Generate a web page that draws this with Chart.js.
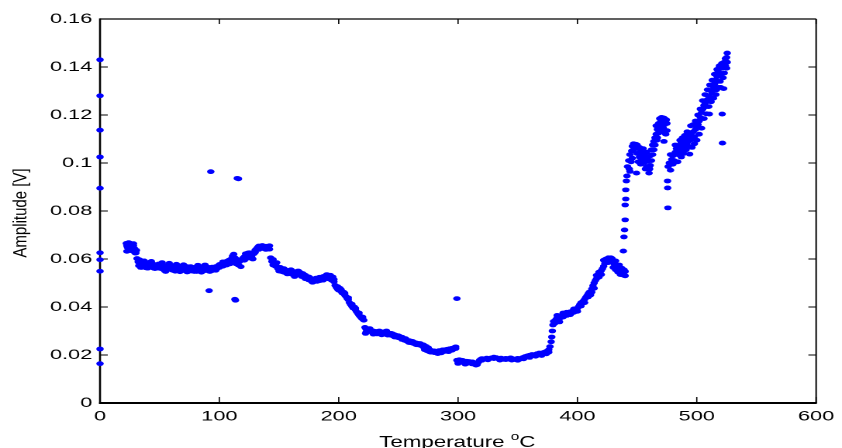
<!DOCTYPE html>
<html>
<head>
<meta charset="utf-8">
<script src="https://cdn.jsdelivr.net/npm/chart.js@4.4.1/dist/chart.umd.min.js"></script>
<style>
  html, body { margin: 0; padding: 0; background: #fff; overflow: hidden; }
  #wrap { width: 842px; height: 448px; overflow: hidden; }
  /* the source figure is stretched sideways, so the canvas is too */
  #plot { display: block; transform: scaleX(1.5506); transform-origin: 0 0; }
</style>
</head>
<body>
<div id="wrap"><canvas id="plot" width="543" height="448"></canvas></div>
<script>
// [temperature °C, amplitude V]
const startup = [[0,0.143],[0,0.128],[0,0.1137],[0,0.1025],[0,0.0895],[0,0.0626],[0,0.0597],[0,0.0549],[0,0.0225],[0,0.0164]];

const plateau = [[22,0.0665],[22.5,0.0655],[23,0.0648],[23.5,0.066],[24,0.0652],[24.5,0.0643],[25,0.0666],[25.5,0.0635],[26,0.0658],[26.5,0.0647],[27,0.065],[27.5,0.0638],[28,0.0655],[28.5,0.063],[29,0.0643],[30,0.0625],[30.5,0.0636],
  [31,0.0602],[32,0.0588],[32.5,0.0572],[33,0.0597],[34,0.0583],[35,0.0565],[36,0.059],[37,0.0576],[38,0.0583],[39,0.0563],[40,0.0578],[41,0.0585],[42,0.0568],[43,0.0574],[44,0.058],[45,0.0562],[46,0.0576],[47,0.0571],[48,0.0566],[49,0.0579],[50,0.0571],
  [51,0.056],[52,0.0568],[53,0.0574],[54,0.0552],[55,0.0565],[56,0.0573],[57,0.056],[58,0.0569],[59,0.0563],[60,0.0555],[61,0.0567],[62,0.0571],[63,0.0549],[64,0.056],[65,0.0566],[66,0.0558],[67,0.0563],[68,0.057],[69,0.0552],[70,0.056],
  [71,0.0566],[72,0.0557],[73,0.0546],[74,0.0563],[75,0.0558],[76,0.0568],[77,0.0553],[78,0.056],[79,0.0565],[80,0.0555],[81,0.0548],[82,0.0561],[83,0.0556],[84,0.0566],[85,0.0558],[86,0.055],[87,0.056],[88,0.0563],[89,0.0552],[90,0.0557],
  [91,0.0565],[92,0.0548],[93,0.0558],[94,0.0552],[95,0.0562],[96,0.0556],[97,0.0568],[98,0.056],[99,0.0571],[100,0.0565],[101,0.0572],[102,0.058],[103,0.057],[104,0.0585],[105,0.0578],[106,0.059],[107,0.0584],[108,0.0595],[109,0.058],[110,0.06],
  [111,0.0612],[112,0.062],[113,0.0605],[114,0.058],[115,0.0598],[116,0.0575],[117,0.059],[118,0.0568],[119,0.0595],[120,0.0605],[121,0.061],[122,0.0622],[123,0.0615],[124,0.0604],[125,0.0626],[126,0.0618],[127,0.0609],[128,0.06],[129,0.0622],[130,0.0637],
  [131,0.0642],[132,0.0648],[133,0.064],[134,0.0646],[135,0.065],[136,0.0644],[137,0.0651],[138,0.0647],[139,0.0653],[140,0.0645],[141,0.065],[142,0.0641]];
const plateauSpread = [[22.5,0.0632],[24,0.0668],[26,0.064],[28,0.0664],[29.5,0.0625],[34,0.0565],[37,0.0592],[40,0.0562],[43,0.059],[46,0.056],[49,0.0562],[52,0.0585],[55,0.0548],[58,0.0582],[61,0.0553],[64,0.0578],[67,0.0547],
  [70,0.0576],[73,0.0568],[76,0.055],[79,0.0548],[82,0.0574],[85,0.0545],[88,0.0575],[91,0.0552],[94,0.0566],[97,0.0553],[100,0.0577],[103,0.0588],[106,0.0575],[109,0.0596],[112,0.0595],
  [121,0.0595],[124,0.0625],[127,0.0625],[130,0.0628],[133,0.0654],[136,0.0656],[139,0.064],[142,0.0655]];

const decline = [[143,0.0605],[144,0.059],[145,0.0598],[146,0.058],[147,0.057],[148,0.0585],[149,0.056],[150,0.055],[151,0.0565],[152,0.0548],[153,0.0558],[154,0.0545],[155,0.0555],[156,0.0542],[157,0.0552],[158,0.054],[159,0.0549],[160,0.0543],
  [161,0.0536],[162,0.0548],[163,0.0541],[164,0.0532],[165,0.0544],[166,0.0537],[167,0.0546],[168,0.0533],[169,0.0527],[170,0.0539],[171,0.0524],[172,0.0532],[173,0.0518],[174,0.0526],[175,0.0513],[176,0.0521],[177,0.0508],[178,0.0517],[179,0.0505],[180,0.0512],
  [181,0.052],[182,0.0507],[183,0.0515],[184,0.0524],[185,0.0511],[186,0.0519],[187,0.0527],[188,0.0518],[189,0.053],[190,0.0524],[191,0.0518],[192,0.0528],[193,0.052],[194,0.0512],[195,0.0525],[196,0.0505],
  [197,0.049],[198,0.0482],[199,0.0475],[200,0.047],[201,0.0478],[202,0.0465],[203,0.0458],[204,0.0462],[205,0.045],[206,0.0444],[207,0.0436],[208,0.043],[209,0.0418],[210,0.041],[211,0.0403],[212,0.0396],[213,0.04],[214,0.0388],[215,0.038],
  [216,0.0373],[217,0.0366],[218,0.036],[219,0.0354],[220,0.035],[221,0.0345],[222,0.0315],[222.5,0.029],[223,0.0308],[224,0.03],[225,0.0306],[226,0.0298],[227,0.0303],[228,0.0295],[229,0.03],[230,0.0291],
  [231,0.0297],[232,0.0288],[233,0.0295],[234,0.03],[235,0.029],[236,0.0284],[237,0.0292],[238,0.0287],[239,0.0295],[240,0.03],[241,0.0293],[242,0.0286],[243,0.029],[244,0.0282],[245,0.0288],[246,0.0279],[247,0.0284],[248,0.0276],[249,0.028],[250,0.0272],
  [251,0.0277],[252,0.027],[253,0.0274],[254,0.0266],[255,0.0262],[256,0.0268],[257,0.0259],[258,0.0255],[259,0.026],[260,0.0252],[261,0.0257],[262,0.0249],[263,0.0253],[264,0.0246],[265,0.025],[266,0.0243],[267,0.0247],[268,0.0241],[269,0.0245],[270,0.0238],
  [271,0.0242],[272,0.0222],[273,0.0236],[274,0.0218],[275,0.023],[276,0.0214],[277,0.022],[278,0.0212],[279,0.0217],[280,0.021],[281,0.0215],[282,0.0209],[283,0.0213],[284,0.0218],[285,0.0212],[286,0.0216],[287,0.0221],[288,0.0217],[289,0.0222],[290,0.0219],
  [291,0.0224],[292,0.0221],[293,0.0226],[294,0.0223],[295,0.0228],[296,0.0225],[297,0.023],[298,0.0227]];
const declineSpread = [[145,0.0575],[148,0.057],[151,0.0553],[154,0.056],[157,0.0538],[160,0.0555],[163,0.0527],[166,0.055],[169,0.054],[172,0.0518],[175,0.0525],[178,0.0503],[181,0.0508],[184,0.051],[187,0.0512],[190,0.0535],[193,0.0532],[196,0.0515],
  [199,0.0485],[202,0.0472],[205,0.0458],[208,0.0438],[211,0.0412],[214,0.0395],[217,0.0375],[220,0.0358],[223,0.0296],[226,0.031],[229,0.0287],[232,0.0298],[235,0.0297],[238,0.0296],[241,0.0283],[244,0.029],[247,0.0275],[250,0.028],
  [253,0.0265],[256,0.026],[259,0.0252],[262,0.0256],[265,0.0243],[268,0.0248],[271,0.0233],[274,0.0227],[277,0.0212],[280,0.0217],[283,0.0206],[286,0.0209],[289,0.0215],[292,0.0214],[295,0.022],[298,0.0234]];

const trough = [[299,0.0178],[300,0.0172],[301,0.018],[302,0.0175],[303,0.017],[304,0.0177],[305,0.0172],[306,0.0168],[307,0.0174],[308,0.017],[309,0.0166],[310,0.0171],[311,0.0167],[312,0.0163],[313,0.0168],[314,0.0162],[315,0.0166],[316,0.016],[317,0.017],[318,0.0178],
  [319,0.0182],[320,0.0185],[322,0.0183],[324,0.0187],[326,0.0184],[328,0.0188],[330,0.0185],[332,0.0189],[334,0.0184],[336,0.0187],[338,0.0182],[340,0.0186],[342,0.0183],[344,0.0188],[346,0.0184],[348,0.0181],[350,0.0186],
  [352,0.0183],[354,0.0189],[356,0.0193],[358,0.0196],[360,0.0199],[362,0.0202],[364,0.02],[366,0.0205],[368,0.0208],[370,0.0206],[372,0.0211],[374,0.0215],[376,0.0222]];
const troughSpread = [[300,0.0165],[303,0.0178],[306,0.0162],[309,0.0173],[312,0.0171],[315,0.0158],[320,0.0178],[325,0.018],[330,0.0191],[335,0.0179],[340,0.0181],[345,0.0179],[350,0.0178],[355,0.0184],[360,0.019],[365,0.0195],[370,0.0198],[374,0.0205],[376,0.0212]];

const rise = [[377,0.0235],[378,0.0255],[378.5,0.0275],[379,0.03],[379.5,0.0325],[380,0.034],[381,0.0332],[382,0.0348],[383,0.0355],[384,0.0342],[385,0.0352],[386,0.036],[387,0.0366],[388,0.0358],[389,0.0368],[390,0.0372],
  [391,0.0365],[392,0.037],[393,0.0376],[394,0.038],[395,0.0374],[396,0.0383],[397,0.0378],[398,0.039],[399,0.0385],[400,0.0395],[401,0.0402],[402,0.041],[403,0.0404],[404,0.0418],[405,0.0425],[406,0.0432],[407,0.044],[408,0.0447],[409,0.0455],[410,0.0462],
  [411,0.045],[412,0.0475],[413,0.0488],[414,0.05],[415,0.051],[416,0.0518],[417,0.053],[418,0.0524],[419,0.054],[420,0.0552],[421,0.056],[422,0.057],[423,0.0582],[424,0.06],[425,0.0594],[426,0.0605],[427,0.0598],[428,0.059],[429,0.0602],[430,0.0585],
  [431,0.0578],[432,0.0592],[433,0.057],[434,0.056],[435,0.0575],[436,0.055],[437,0.0562],[438,0.0545],[439,0.0555],[440,0.0548]];
const riseSpread = [[383,0.0365],[385,0.0338],[388,0.0375],[391,0.0378],[394,0.0368],[397,0.0392],[400,0.0382],[403,0.0418],[406,0.0418],[409,0.0442],[412,0.0462],[414,0.0478],[416,0.0532],[418,0.0545],[420,0.0535],
  [422,0.0595],[424,0.0585],[426,0.0585],[428,0.0605],[430,0.0565],[432,0.0555],[434,0.0545],[436,0.0535],[438,0.0555],[439,0.0532],[440,0.053]];

const peaks = [[438.5,0.0633],[439,0.0692],[439.5,0.0721],[440,0.0763],[440,0.0825],[440.5,0.085],[440.5,0.0888],[441,0.0925],[441.5,0.0946],
  [442,0.0985],[443,0.101],[443.5,0.0975],[444,0.1035],[445,0.1005],[445.5,0.105],[446,0.107],[447,0.108],[448,0.1065],[449,0.1078],[449.5,0.0958],[450,0.104],[451,0.106],[452,0.1025],[453,0.1048],[454,0.1015],[455,0.1035],
  [456,0.1002],[457,0.102],[458,0.0985],[459,0.1008],[460,0.0958],[460.5,0.0975],[461,0.103],[462,0.1055],[463,0.1075],[464,0.109],[465,0.1105],[466,0.112],[466.5,0.1095],[467,0.114],[468,0.1165],[469,0.1185],[470,0.115],[470.5,0.119],
  [471,0.113],[472,0.1188],[472.5,0.109],[473,0.116],[474,0.112],[474.5,0.118],[475,0.1135],[475.5,0.0925],[475.6,0.0896],[475.8,0.0813],
  [476,0.0985],[477,0.1],[478,0.097],[479,0.1015],[480,0.103],[481,0.101],[482,0.1045],[483,0.106],[484,0.1035],[485,0.107],[486,0.105],[487,0.1085],[488,0.1065],[489,0.1095],[490,0.1075],
  [491,0.11],[492,0.1085],[493,0.1115],[494,0.1037],[494.5,0.1095],[495,0.112],[496,0.11],[497,0.113],[498,0.111],[499,0.114],[500,0.115],[501,0.116],[502,0.1175],[503,0.119],[504,0.121],[505,0.1225],
  [506,0.124],[507,0.125],[508,0.1235],[509,0.1265],[510,0.128],[510.5,0.1204],[511,0.127],[512,0.13],[513,0.129],[514,0.1315],[515,0.133],[516,0.1345],[516.5,0.1305],[517,0.136],[518,0.138],[519,0.14],[519.5,0.134],
  [520,0.137],[521,0.1395],[521.3,0.1204],[521.5,0.1083],[522,0.141],[522.5,0.131],[523,0.142],[524,0.1405],[525,0.144],[525.5,0.1458]];
const peaksSpread = [[444,0.0965],[446,0.102],[447,0.1055],[448,0.1075],[450,0.1075],[451,0.1005],[452,0.1065],[453,0.0995],[455,0.106],[456,0.1035],[457,0.0975],[458,0.1045],[459,0.1025],[461,0.099],[462,0.101],[463,0.1035],[464,0.1055],[465,0.1075],
  [466,0.1155],[467,0.1105],[468,0.1125],[469,0.1135],[470,0.1175],[471,0.118],[472,0.1145],[473,0.1185],[474,0.1165],[475,0.1165],
  [478,0.1035],[480,0.0995],[482,0.1075],[484,0.1005],[486,0.1095],[487,0.1025],[488,0.1105],[489,0.104],[490,0.1115],[491,0.1055],[492,0.113],[493,0.107],[495,0.1155],[496,0.1065],[497,0.116],[498,0.108],[499,0.1175],[500,0.1095],
  [501,0.12],[502,0.112],[503,0.1225],[504,0.1145],[505,0.126],[506,0.1185],[507,0.1285],[508,0.1205],[509,0.1305],[510,0.1235],[511,0.1325],[512,0.1255],[513,0.1345],[514,0.127],[515,0.137],[516,0.1285],[517,0.139],[518,0.1315],
  [519,0.1405],[520,0.1315],[521,0.1415],[522,0.1355],[523,0.1375],[524,0.1435],[525,0.1395],[525.5,0.142]];

const strays = [[92.8,0.0964],[115,0.0936],[116,0.0934],[91.4,0.0468],[113,0.0432],[113.5,0.0428],[299,0.0435]];

const xTicks = [0, 100, 200, 300, 400, 500, 600];
const yTicks = [0, 0.02, 0.04, 0.06, 0.08, 0.1, 0.12, 0.14, 0.16];

const points = [...startup, ...plateau, ...plateauSpread, ...decline, ...declineSpread, ...trough, ...troughSpread,
  ...rise, ...riseSpread, ...peaks, ...peaksSpread, ...strays].map(p => ({x: p[0], y: p[1]}));

const FONT = '"Liberation Sans", Arial, Helvetica, sans-serif';

// MATLAB style box with inward ticks, and the two axis titles
const frame = {
  id: 'frame',
  beforeDatasetsDraw(chart) {
    const {ctx, chartArea: a, scales: {x, y}} = chart;
    ctx.save();
    ctx.strokeStyle = '#000';
    ctx.lineWidth = 0.8;
    ctx.beginPath();
    xTicks.forEach(v => {
      const px = x.getPixelForValue(v);
      ctx.moveTo(px, a.bottom); ctx.lineTo(px, a.bottom - 6);
      ctx.moveTo(px, a.top); ctx.lineTo(px, a.top + 5);
    });
    ctx.stroke();
    ctx.lineWidth = 1;
    ctx.beginPath();
    yTicks.forEach(v => {
      const py = y.getPixelForValue(v);
      ctx.moveTo(a.left, py); ctx.lineTo(a.left + 5, py);
      ctx.moveTo(a.right, py); ctx.lineTo(a.right - 5, py);
    });
    ctx.stroke();

    const line = (w, x1, y1, x2, y2) => {
      ctx.lineWidth = w;
      ctx.beginPath(); ctx.moveTo(x1, y1); ctx.lineTo(x2, y2); ctx.stroke();
    };
    line(1.2, a.left, a.top, a.right, a.top);
    line(1, a.right, a.top, a.right, a.bottom);
    line(2, a.left - 0.6, a.bottom, a.right + 0.5, a.bottom);
    line(1.3, a.left, a.top - 0.6, a.left, a.bottom + 1);
    ctx.restore();
  },
  afterDraw(chart) {
    const {ctx, chartArea: a} = chart;
    ctx.save();
    ctx.fillStyle = '#000';
    ctx.textBaseline = 'alphabetic';
    ctx.textAlign = 'left';

    // x title with superscript o
    const big = '16px ' + FONT, small = '11px ' + FONT;
    ctx.font = big;
    const w1 = ctx.measureText('Temperature ').width;
    const w3 = ctx.measureText('C').width;
    ctx.font = small;
    const w2 = ctx.measureText('o').width;
    const total = w1 + w2 + w3;
    ctx.translate((a.left + a.right) / 2 - 0.5, 0);
    ctx.scale(0.9, 1);
    let cx = -total / 2;
    ctx.font = big;
    ctx.fillText('Temperature ', cx, 447);
    cx += w1;
    ctx.font = small;
    ctx.fillText('o', cx, 440);
    cx += w2;
    ctx.font = big;
    ctx.fillText('C', cx, 447);
    ctx.restore();

    // y title
    ctx.save();
    ctx.fillStyle = '#000';
    ctx.translate(13.5, (a.top + a.bottom) / 2 + 2);
    ctx.rotate(-Math.PI / 2);
    ctx.scale(1, 0.82);
    ctx.font = '15px ' + FONT;
    ctx.textAlign = 'center';
    ctx.textBaseline = 'middle';
    ctx.fillText('Amplitude [V]', 0, 0);
    ctx.restore();
  }
};

new Chart(document.getElementById('plot'), {
  type: 'scatter',
  data: {
    datasets: [{
      label: 'Amplitude',
      data: points,
      pointStyle: 'circle',
      pointRadius: 2.4,
      pointHoverRadius: 2.4,
      pointBorderWidth: 0,
      backgroundColor: '#0000ff',
      borderColor: '#0000ff',
      clip: false
    }]
  },
  options: {
    responsive: false,
    animation: false,
    devicePixelRatio: 2,
    layout: { padding: { left: 0, right: 12.9, top: 19, bottom: 0 } },
    plugins: { legend: { display: false }, tooltip: { enabled: false } },
    events: [],
    scales: {
      x: {
        type: 'linear',
        min: 0,
        max: 600,
        grid: { display: false, drawTicks: false },
        border: { display: false },
        afterBuildTicks: s => { s.ticks = xTicks.map(v => ({value: v})); },
        afterFit: s => { s.height = 45; },
        ticks: {
          color: '#000',
          padding: 5,
          maxRotation: 0,
          font: { family: FONT, size: 14 }
        }
      },
      y: {
        type: 'linear',
        min: 0,
        max: 0.16,
        grid: { display: false, drawTicks: false },
        border: { display: false },
        afterBuildTicks: s => { s.ticks = yTicks.map(v => ({value: v})); },
        afterFit: s => { s.width = 64.5; },
        ticks: {
          color: '#000',
          padding: 5,
          font: { family: FONT, size: 14 },
          callback: v => String(+(+v).toFixed(2))
        }
      }
    }
  },
  plugins: [frame]
});
</script>
</body>
</html>
